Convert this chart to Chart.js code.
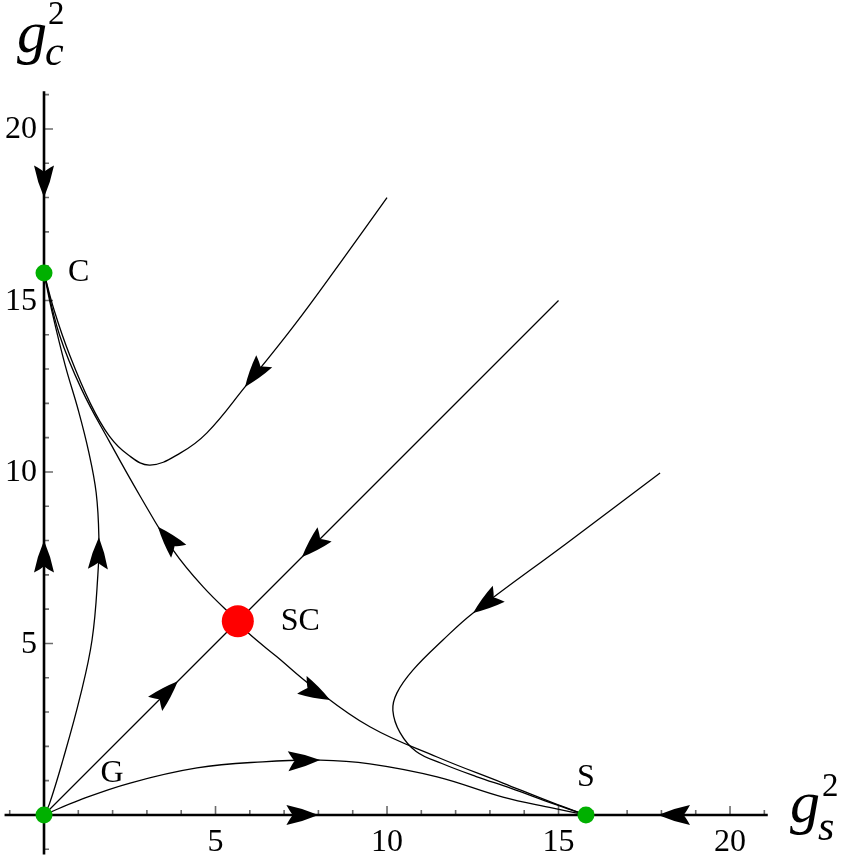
<!DOCTYPE html>
<html>
<head>
<meta charset="utf-8">
<script src="https://cdn.jsdelivr.net/npm/chart.js@4"></script>
<style>
  body { margin: 0; background: #fff; }
  #wrap { width: 847px; height: 864px; }
</style>
</head>
<body>
<div id="wrap"><canvas id="flow" width="847" height="864"></canvas></div>
<script>
// fixed points
const pointC = [{x: 0, y: 15.8}];
const pointS = [{x: 15.8, y: 0}];
const pointG = [{x: 0, y: 0}];
const pointSC = [{x: 5.65, y: 5.65}];

// trajectories
const flowGtoC = [
  {x: 0, y: 0}, {x: 0.15, y: 0.3}, {x: 0.55, y: 1.6}, {x: 1.05, y: 3.44}, {x: 1.4, y: 5.1},
  {x: 1.57, y: 7.0}, {x: 1.6, y: 8.1}, {x: 1.52, y: 9.4}, {x: 1.3, y: 10.6},
  {x: 1.0, y: 11.8}, {x: 0.62, y: 13.1}, {x: 0.25, y: 14.6}, {x: 0, y: 15.8}
];
const flowCtoSC = [
  {x: 0, y: 15.8}, {x: 0.45, y: 14.0}, {x: 1.1, y: 12.4}, {x: 1.9, y: 10.9}, {x: 2.8, y: 9.3},
  {x: 3.76, y: 7.73}, {x: 4.64, y: 6.65}, {x: 5.65, y: 5.65}
];
const flowSCtoS = [
  {x: 5.65, y: 5.65}, {x: 5.95, y: 5.31}, {x: 6.79, y: 4.61}, {x: 7.84, y: 3.73}, {x: 9.5, y: 2.57},
  {x: 11.46, y: 1.69}, {x: 13.38, y: 0.93}, {x: 14.84, y: 0.35}, {x: 15.8, y: 0}
];
const flowGtoS = [
  {x: 0, y: 0}, {x: 1.05, y: 0.44}, {x: 2.51, y: 0.93}, {x: 4.46, y: 1.37}, {x: 6.38, y: 1.55},
  {x: 8.05, y: 1.6}, {x: 9.5, y: 1.49}, {x: 11.46, y: 1.11}, {x: 13.38, y: 0.52},
  {x: 14.84, y: 0.2}, {x: 15.8, y: 0}
];
const flowDiagonal = [{x: 0, y: 0}, {x: 15, y: 15}];
const flowUpper = [
  {x: 10, y: 18}, {x: 8.63, y: 16.09}, {x: 7.26, y: 14.23}, {x: 5.86, y: 12.48}, {x: 4.75, y: 11.14},
  {x: 3.97, y: 10.55}, {x: 3.09, y: 10.2}, {x: 2.45, y: 10.5}, {x: 1.9, y: 11.05},
  {x: 1.35, y: 12.0}, {x: 0.75, y: 13.4}, {x: 0.3, y: 14.7}, {x: 0, y: 15.8}
];
const flowLower = [
  {x: 17.96, y: 9.97}, {x: 15.25, y: 7.93}, {x: 12.51, y: 5.89}, {x: 11.63, y: 5.1}, {x: 10.76, y: 4.23},
  {x: 10.29, y: 3.56}, {x: 10.17, y: 3.05}, {x: 10.38, y: 2.4}, {x: 10.85, y: 1.85},
  {x: 11.6, y: 1.5}, {x: 12.6, y: 1.12}, {x: 13.6, y: 0.78}, {x: 14.84, y: 0.33}, {x: 15.8, y: 0}
];

// arrowheads: tip point and a point behind it on the same curve
const arrows = [
  [8.0, 0, 7.0, 0], [17.9, 0, 18.9, 0], [0, 8.0, 0, 7.0], [0, 18.0, 0, 19.0],
  [1.6, 8.1, 1.57, 7.14], [3.32, 8.4, 3.97, 7.64], [8.34, 3.35, 7.52, 3.79],
  [8.05, 1.6, 7.2, 1.57], [3.9, 3.9, 3.0, 3.0], [7.52, 7.52, 8.5, 8.5],
  [5.86, 12.48, 6.8, 13.73], [12.51, 5.89, 13.5, 6.63]
];

const pointNames = ['C', 'SC', 'S', 'G'];
const nameX = [0.7, 6.9, 15.8, 1.65];
const nameY = [15.8, 5.65, 1.1, 1.22];

const xTicks = [5, 10, 15, 20];
const yTicks = [5, 10, 15, 20];
const minorTicks = [-1, 1, 2, 3, 4, 6, 7, 8, 9, 11, 12, 13, 14, 16, 17, 18, 19, 21];
const axisEnd = 21.1;
const axisStart = -1.15;

const serif = '"Liberation Serif", "Times New Roman", serif';

function arrowHead(ctx, x, y, ang) {
  const L = 32, w = 10;
  ctx.save();
  ctx.translate(x, y);
  ctx.rotate(ang);
  ctx.beginPath();
  ctx.moveTo(0, 0);
  ctx.quadraticCurveTo(-L * 0.5, w * 0.68, -L, w);
  ctx.quadraticCurveTo(-L * 0.88, w * 0.3, -L * 0.8, 0);
  ctx.quadraticCurveTo(-L * 0.88, -w * 0.3, -L, -w);
  ctx.quadraticCurveTo(-L * 0.5, -w * 0.68, 0, 0);
  ctx.fillStyle = '#000';
  ctx.fill();
  ctx.restore();
}

const axesPlugin = {
  id: 'originAxes',
  beforeDatasetsDraw(chart) {
    const ctx = chart.ctx, sx = chart.scales.x, sy = chart.scales.y;
    const x0 = sx.getPixelForValue(0), y0 = sy.getPixelForValue(0);
    ctx.save();
    // ticks
    ctx.strokeStyle = '#6b6b6b';
    ctx.lineWidth = 1.6;
    ctx.beginPath();
    minorTicks.concat(xTicks).forEach(v => {
      const len = xTicks.includes(v) ? 9 : 5;
      const px = sx.getPixelForValue(v);
      ctx.moveTo(px, y0); ctx.lineTo(px, y0 - len);
      const py = sy.getPixelForValue(v);
      ctx.moveTo(x0, py); ctx.lineTo(x0 + len, py);
    });
    ctx.stroke();
    // axis lines
    ctx.strokeStyle = '#000';
    ctx.lineWidth = 2.6;
    ctx.beginPath();
    ctx.moveTo(sx.getPixelForValue(axisStart), y0);
    ctx.lineTo(sx.getPixelForValue(axisEnd), y0);
    ctx.moveTo(x0, sy.getPixelForValue(axisStart));
    ctx.lineTo(x0, sy.getPixelForValue(axisEnd));
    ctx.stroke();
    // tick labels
    ctx.fillStyle = '#000';
    ctx.font = '32px ' + serif;
    ctx.textAlign = 'center';
    ctx.textBaseline = 'top';
    xTicks.forEach(v => ctx.fillText(String(v), sx.getPixelForValue(v), y0 + 12));
    ctx.textAlign = 'right';
    ctx.textBaseline = 'middle';
    yTicks.forEach(v => ctx.fillText(String(v), x0 - 7, sy.getPixelForValue(v) + 1));
    ctx.restore();
  },
  afterDatasetsDraw(chart) {
    const ctx = chart.ctx, sx = chart.scales.x, sy = chart.scales.y;
    arrows.forEach(a => {
      const tx = sx.getPixelForValue(a[0]), ty = sy.getPixelForValue(a[1]);
      const fx = sx.getPixelForValue(a[2]), fy = sy.getPixelForValue(a[3]);
      arrowHead(ctx, tx, ty, Math.atan2(ty - fy, tx - fx));
    });
    ctx.save();
    ctx.fillStyle = '#000';
    ctx.font = '32px ' + serif;
    ctx.textBaseline = 'middle';
    pointNames.forEach((n, i) => {
      ctx.textAlign = n === 'S' ? 'center' : 'left';
      ctx.fillText(n, sx.getPixelForValue(nameX[i]), sy.getPixelForValue(nameY[i]));
    });
    // axis titles
    ctx.textAlign = 'left';
    ctx.textBaseline = 'alphabetic';
    ctx.font = 'italic 60px ' + serif;
    ctx.fillText('g', 17, 52);
    ctx.font = 'italic 42px ' + serif;
    ctx.fillText('c', 45, 65);
    ctx.font = '33px ' + serif;
    ctx.fillText('2', 48, 24);
    ctx.font = 'italic 60px ' + serif;
    ctx.fillText('g', 790, 822);
    ctx.font = 'italic 42px ' + serif;
    ctx.fillText('s', 818, 840);
    ctx.font = '33px ' + serif;
    ctx.fillText('2', 822, 796);
    ctx.restore();
  }
};

function curve(data) {
  return {
    data: data, showLine: true, pointRadius: 0, borderColor: '#000',
    borderWidth: 1.3, tension: 0.4, order: 2
  };
}
function dot(data, color, r) {
  return {
    data: data, pointRadius: r, pointHoverRadius: r, backgroundColor: color,
    borderWidth: 0, showLine: false, order: 1
  };
}

new Chart(document.getElementById('flow'), {
  type: 'scatter',
  data: {
    datasets: [
      curve(flowGtoC), curve(flowCtoSC), curve(flowSCtoS), curve(flowGtoS),
      curve(flowDiagonal), curve(flowUpper), curve(flowLower),
      dot(pointC, '#00b000', 8.5), dot(pointS, '#00b000', 8.5),
      dot(pointG, '#00b000', 8.5), dot(pointSC, '#ff0000', 16)
    ]
  },
  options: {
    responsive: false,
    animation: false,
    devicePixelRatio: 1,
    layout: { padding: 0, autoPadding: false },
    plugins: { legend: { display: false }, tooltip: { enabled: false } },
    scales: {
      x: { type: 'linear', display: false, min: -1.283, max: 23.41 },
      y: { type: 'linear', display: false, min: -1.43, max: 23.76 }
    }
  },
  plugins: [axesPlugin]
});
</script>
</body>
</html>
